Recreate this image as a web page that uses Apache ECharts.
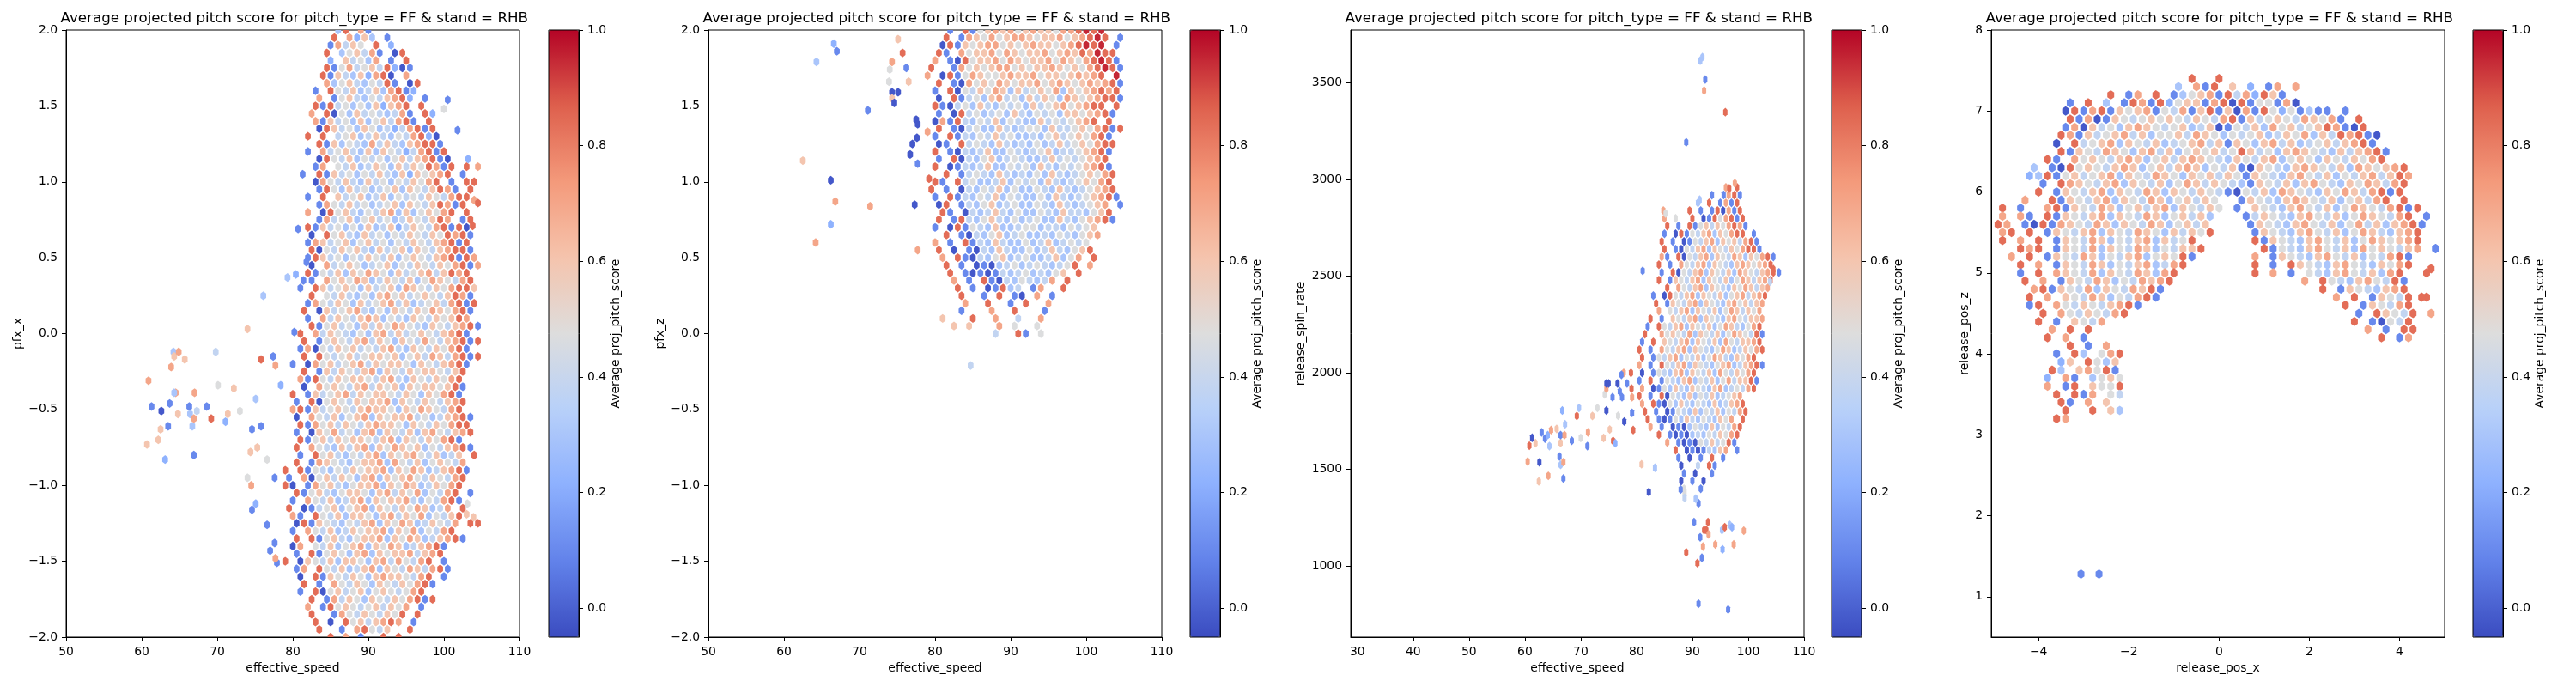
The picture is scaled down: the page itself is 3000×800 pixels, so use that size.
<!DOCTYPE html>
<html>
<head>
<meta charset="utf-8">
<script src="https://cdn.jsdelivr.net/npm/echarts@6/dist/echarts.min.js"></script>
<style>
  html, body { margin: 0; padding: 0; background: #fff; }
  #chart { width: 3000px; height: 800px; }
</style>
</head>
<body>
<div id="chart"></div>
<script>
// score for each digit used in the bin rows below ('.' = empty bin)
const levels = [-0.02, 0.1, 0.22, 0.3, 0.38, 0.47, 0.6, 0.7, 0.84, 0.95];

const titleText = 'Average projected pitch score for pitch_type = FF & stand = RHB';
const xNames = ['effective_speed', 'effective_speed', 'effective_speed', 'release_pos_x'];
const yNames = ['pfx_x', 'pfx_z', 'release_spin_rate', 'release_pos_z'];
const xRanges = [[50, 110], [50, 110], [28.8, 110], [-5.05, 5.0]];
const yRanges = [[-2, 2], [-2, 2], [632, 3774], [0.5, 8]];
const xTicks = [
  [50, 60, 70, 80, 90, 100, 110],
  [50, 60, 70, 80, 90, 100, 110],
  [30, 40, 50, 60, 70, 80, 90, 100, 110],
  [-4, -2, 0, 2, 4]
];
const yTicks = [
  [-2, -1.5, -1, -0.5, 0, 0.5, 1, 1.5, 2],
  [-2, -1.5, -1, -0.5, 0, 0.5, 1, 1.5, 2],
  [1000, 1500, 2000, 2500, 3000, 3500],
  [1, 2, 3, 4, 5, 6, 7, 8]
];
const yDecimals = [1, 1, 0, 0];
const cbTicks = [0, 0.2, 0.4, 0.6, 0.8, 1.0];

// pfx_x vs effective_speed, rows from y=2.00 down by 0.05, bins 1 mph wide
const p1Rows = [
  [86, '38.71'],
  [85, '8.7263.1'],
  [85, '17465.8.2'],
  [84, '8.356471.08'],
  [84, '.2.64537.1.8'],
  [84, '815745648201'],
  [84, '8164362780.7'],
  [84, '7356435481.08'],
  [83, '1.854634637812'],
  [83, '7.15643546782.1'],
  [83, '8184535362678.8'],
  [82, '7.805364543471.82'],
  [83, '71645363564781.8'],
  [83, '0864536534247818'],
  [82, '8.8.45634643547820'],
  [83, '81635437464367881'],
  [82, '1.74564363654247818'],
  [83, '085463545356467810'],
  [83, '17.5463465364658718.8'],
  [83, '816453546436265678.1'],
  [83, '07546436453546578.1.88'],
  [83, '1853645345636546871.8'],
  [82, '1.8.645634635454654788'],
  [83, '17546453456365468718'],
  [82, '7.085643546736356578.8'],
  [82, '.174563564534654687.18'],
  [82, '8164535363462465478180'],
  [82, '0.85643645354654658781'],
  [82, '1764563564535465467818'],
  [82, '8054656436456365467881'],
  [82, '1864535465463565467818'],
  [82, '0.745653456354654657817'],
  [82, '8154636576536456746878'],
  [82, '1.75657634654635765478'],
  [81, '1.864565364563765465788'],
  [82, '8.54643536756456546871'],
  [82, '17546536456746345647818'],
  [81, '8.064567435365465765781'],
  [82, '1.74654676354365465687'],
  [82, '81564536465765436546781'],
  [81, '8.746543536746456546781'],
  [81, '8.1565467465365475467818'],
  [81, '17054656454674365465781'],
  [81, '8.8545645665635647647818'],
  [80, '1.0756456746566536546781'],
  [81, '8.16465467365465665468'],
  [80, '.7185465665467436546578'],
  [81, '0.75654674656365665681'],
  [80, '8.164567465665465365781'],
  [80, '1.805654656673654654678'],
  [80, '78164565467665365765478'],
  [80, '0.7546356736566745346781'],
  [80, '.81756465467665365465788'],
  [80, '1.0657453673654636754678'],
  [80, '.8156465665467365465781'],
  [80, '8.7543646736576563546781'],
  [81, '1.85643546736567546346.8'],
  [80, '8.176543566737546356547'],
  [79, '8.81543546566736576346781'],
  [79, '1.7056465367365675465478'],
  [79, '80.175643566736576346578'],
  [79, '.8156435665367465735478.1'],
  [80, '1.754634673656674354781'],
  [79, '8.01456356736546576347.8'],
  [80, '71.85463665367465735468'],
  [80, '0816543546736576346547.88'],
  [80, '1.75463465667365735478'],
  [80, '8.815643566736576346781'],
  [80, '07.546356736576346781'],
  [80, '1.815653673656674678'],
  [79, '8.065463665367475478.1'],
  [80, '17.854634673654764781'],
  [81, '0.8165465367665478.1'],
  [81, '8.1.75465365465781'],
  [81, '1.805645635654578'],
  [81, '.8.174653654657818'],
  [82, '7.185654564657.1'],
  [82, '8..1754654658.8'],
  [82, '.8.0.85646787.1'],
  [83, '8..1.78546..8'],
  [83, '..8.7.1..8.8']
];
const p1Sparse = [
  [60.9, -0.31, 7], [60.7, -0.73, 6], [61.3, -0.48, 1], [62.2, -0.70, 6], [62.5, -0.63, 6],
  [62.6, -0.51, 0], [63.1, -0.83, 2], [63.5, -0.61, 1], [63.7, -0.46, 1], [63.9, -0.22, 7],
  [64.2, -0.12, 3], [64.3, -0.15, 6], [64.9, -0.12, 7], [64.5, -0.39, 7], [64.3, -0.39, 3],
  [64.8, -0.53, 6], [65.7, -0.17, 6], [66.3, -0.48, 1], [66.4, -0.53, 3], [66.7, -0.61, 3],
  [66.9, -0.56, 7], [67.0, -0.39, 7], [67.3, -0.51, 4], [66.9, -0.80, 1], [68.6, -0.48, 1],
  [69.2, -0.56, 8], [69.8, -0.12, 4], [70.1, -0.34, 5], [71.1, -0.58, 2], [71.4, -0.53, 6],
  [72.2, -0.36, 6], [73.0, -0.51, 5], [74.6, -0.63, 1], [75.8, -0.17, 8], [75.8, -0.61, 1],
  [74.4, -0.78, 6], [75.3, -0.75, 6], [75.1, -0.43, 3], [76.6, -0.83, 5], [77.7, -0.21, 7],
  [77.4, -0.15, 1], [78.4, -0.34, 2], [74.0, -0.95, 5], [74.5, -1.0, 7], [77.6, -0.95, 1],
  [75.1, -1.12, 2], [74.6, -1.16, 1], [76.6, -1.26, 1], [77.0, -1.43, 1], [77.6, -1.38, 1],
  [77.9, -1.51, 1], [77.7, -1.48, 7],
  [81.3, 1.05, 1], [80.7, 0.69, 1], [81.8, 0.47, 1], [80.4, 0.39, 2], [79.3, 0.37, 3],
  [81.4, 0.35, 1], [76.1, 0.25, 3], [74.0, 0.03, 6], [80.2, 0.01, 1],
  [100.5, 1.54, 1], [100.0, 1.48, 5], [101.8, 1.34, 1], [103.2, 1.15, 2], [104.5, 1.10, 7],
  [104.0, 0.88, 7], [104.5, 0.86, 8], [103.8, 0.71, 8], [104.0, 0.50, 7], [104.0, 0.30, 6],
  [103.1, -1.12, 5], [103.0, -1.19, 6], [103.9, -1.21, 6]
];

// pfx_z vs effective_speed, rows from y=2.00 down by 0.05
const p2Rows = [
  [82, '1.8156767567665778989'],
  [81, '8.17657567765667567898.1'],
  [81, '0816567756567665678989.1'],
  [80, '81.756675765667567687988'],
  [80, '7.10856675765667576578981'],
  [79, '8..17565677565667656578981'],
  [79, '7.0815765567667566567678.9'],
  [80, '8.10756576566756765676781'],
  [80, '1.80546576364565736567878'],
  [80, '0.81453674536465376567881'],
  [80, '81045364354536456756788.8'],
  [80, '1.0845345364354536656781'],
  [80, '0718435463543364545678.8'],
  [80, '8.10453364345536445657818'],
  [80, '1.8143546453343564565781'],
  [80, '01.845436434353464565788'],
  [80, '8.1043463354345634456781'],
  [80, '1.804356345433464545678'],
  [80, '8.0143463354536435456781'],
  [80, '.8.145436434353643456578'],
  [80, '81.845334635453643456578'],
  [79, '8.1.043546353354364345678'],
  [80, '1.81435463543353643456781'],
  [80, '08.14356345335436434567.1'],
  [80, '.81.04346435335436443568'],
  [80, '8.1843564353453364356781'],
  [80, '1.08154363345534435456'],
  [80, '.8.1043563453343543567'],
  [80, '7.1.81436433534634545'],
  [80, '8.0.10436433534643568'],
  [80, '.7.81043563453346357.8'],
  [81, '8.1.01034534543458.7'],
  [81, '.8.10101434534356.8'],
  [82, '7.1.8104354347.8'],
  [82, '.8.1.01834.17..8'],
  [83, '8..1.8.10.7.1'],
  [83, '.7..8..1.8..7'],
  [83, '1...7..8...1'],
  [81, '6...8..7..4..7'],
  [81, '.6.6...7.5..5'],
  [88, '4..81.5']
];
const p2Sparse = [
  [66.6, 1.91, 2], [67.0, 1.86, 1], [64.3, 1.79, 3], [75.1, 1.94, 6], [75.7, 1.85, 8],
  [74.3, 1.79, 7], [74.0, 1.74, 5], [76.2, 1.75, 1], [73.9, 1.66, 5], [76.5, 1.66, 6],
  [74.3, 1.59, 0], [75.1, 1.59, 0], [74.3, 1.55, 6], [74.6, 1.52, 0], [71.1, 1.47, 1],
  [77.5, 1.41, 0], [77.7, 1.38, 0], [79.0, 1.33, 7], [77.0, 1.25, 0], [77.6, 1.29, 0],
  [76.7, 1.18, 0], [62.5, 1.14, 6], [77.7, 1.12, 1], [66.2, 1.01, 0], [79.2, 1.02, 8],
  [66.8, 0.87, 7], [71.4, 0.84, 7], [77.3, 0.85, 0], [66.2, 0.72, 2], [64.2, 0.60, 7],
  [77.7, 0.55, 7], [84.7, -0.21, 4]
];

// release_spin_rate vs effective_speed, rows from 2960 rpm down by 40
const p3Rows = [
  [96, '7.8'],
  [93, '1..781'],
  [91, '3.8.1718'],
  [89, '8.1.180718'],
  [85, '7.5..8.01857818'],
  [85, '8.1.81564657871'],
  [85, '1.0815467365788.1'],
  [84, '8.1.01546736564781'],
  [84, '.8.1054673654657881'],
  [84, '71.805467365476365781'],
  [84, '8.1.75467365436765678'],
  [84, '1.80546736546376546781'],
  [84, '8.1654673654635764678'],
  [84, '.8.75467365436576467'],
  [83, '1.0854673654635674678'],
  [83, '8.165467365436756467'],
  [83, '.7.54673654635764657'],
  [82, '8.1.65467365436754667'],
  [82, '1.8546736546357643578'],
  [81, '8..7565473654635765481'],
  [81, '1.8.654673654637546678'],
  [80, '8.1.7546736543576346578'],
  [80, '.8.1546735463576436578'],
  [80, '7.1.8546736543567346781'],
  [79, '8.0.1543673654637546578'],
  [80, '1.8.154367354635746681'],
  [80, '.7.0153643654367345478'],
  [80, '8.1.805436354634567'],
  [80, '.7.81053643543634678'],
  [81, '8.1.015436354635478'],
  [81, '.8.10153643543657.8'],
  [82, '7.1.0103543635478'],
  [84, '8.1010343546578'],
  [85, '7.10105464581'],
  [86, '.8.01014367.1'],
  [87, '1.0.1.8.1'],
  [88, '0..4.81'],
  [88, '1.0..1'],
  [88, '0.1.0'],
  [88, '5..1']
];
const p3Sparse = [
  [60.5, 1541, 7], [62.6, 1537, 0], [66.9, 1453, 1], [62.5, 1438, 6], [64.2, 1467, 7],
  [66.4, 1524, 3], [66.9, 1538, 7], [66.2, 1567, 1], [60.8, 1623, 8], [61.9, 1636, 6],
  [61.3, 1664, 0], [63.0, 1692, 1], [63.6, 1660, 1], [64.1, 1678, 2], [64.7, 1704, 7],
  [65.7, 1710, 6], [64.4, 1621, 3], [66.4, 1638, 6], [66.4, 1678, 1], [67.1, 1678, 7],
  [68.4, 1649, 1], [67.2, 1734, 3], [66.7, 1805, 2], [69.7, 1818, 3], [69.3, 1777, 8],
  [70.0, 1663, 5], [71.2, 1621, 1], [71.3, 1692, 7], [72.1, 1777, 6], [73.0, 1818, 5],
  [74.1, 1663, 6], [74.3, 1889, 5], [74.6, 1919, 7], [74.6, 1805, 0], [74.6, 1945, 0],
  [75.0, 1945, 0], [75.2, 1707, 6], [75.8, 1648, 8], [76.2, 1636, 2], [75.7, 1874, 1],
  [76.6, 1945, 0], [76.7, 1778, 5], [77.0, 1904, 1], [77.4, 1874, 1], [77.8, 1748, 0],
  [78.3, 1945, 1], [79.1, 1919, 8], [79.2, 1793, 1], [79.2, 1874, 7], [77.7, 2000, 7],
  [77.3, 1990, 1], [80.9, 1527, 6], [83.3, 1509, 3], [82.2, 1383, 0], [79.4, 1704, 8],
  [88.6, 1383, 5], [88.6, 1353, 4], [91.1, 1325, 1], [90.6, 1349, 3], [87.9, 1396, 1],
  [90.3, 1228, 1], [92.8, 1228, 8], [92.1, 1186, 8], [92.5, 1186, 8], [92.9, 1164, 7],
  [91.4, 1149, 1], [91.9, 1101, 7], [88.9, 1071, 8], [94.1, 1112, 7], [95.3, 1186, 3],
  [95.8, 1201, 8], [96.7, 1213, 3], [97.1, 1201, 2], [95.4, 1086, 2], [97.4, 1112, 7],
  [99.2, 1183, 7], [91.7, 1043, 1], [90.9, 1015, 8], [91.1, 805, 1], [96.4, 775, 1],
  [91.4, 3616, 3], [91.8, 3634, 3], [92.3, 3518, 1], [92.1, 3461, 7], [95.9, 3349, 8],
  [88.9, 3193, 1], [91.3, 2896, 3], [97.6, 2981, 7], [95.6, 2921, 1], [96.6, 2954, 8],
  [84.8, 2840, 7], [85.2, 2825, 5], [81.1, 2528, 1], [104.5, 2536, 8], [103.9, 2472, 4]
];

// release_pos_z vs release_pos_x, rows from 7.4 ft down by 0.1, bins 0.2 ft wide
const p4Rows = [
  [[-0.6, '8..8']],
  [[-1.0, '3.718.6.2.17.7']],
  [[-2.4, '8.17.8.1356718472861']],
  [[-3.4, '1.8.3.18718256617808155170']],
  [[-3.4, '081781656715471681607185251311.1']],
  [[-3.4, '8170165456565465478164565476571.8']],
  [[-3.4, '1706453676545634601546375645687108']],
  [[-3.6, '871645674635564765354563465736487810']],
  [[-3.6, '0.8456736546345674616536746345646781']],
  [[-3.6, '8165476536746356564586453676543646781']],
  [[-3.8, '81.75654676356467654365467356536546578']],
  [[-4.2, '3.1085654676356467635461065436765463765678']],
  [[-4.2, '2381564567365476536564651654367546354674687']],
  [[-4.0, '1.876546736546357646543165463675436576478']],
  [[-4.0, '8.165467365476365465410546376543657647818']],
  [[-4.4, '7..8165467365476356465'], [0.4, '16543676546356478.8']],
  [[-4.8, '8.1..78165476356467365465'], [0.4, '1.6543675463576547818']],
  [[-4.9, '7.71.8165467365476356463'], [0.5, '1465436754635765478.1']],
  [[-4.9, '87.108176547636547635646'], [0.7, '16543675463574636781']],
  [[-4.9, '78.8.1654673654765364658'], [0.7, '1654367546357643678']],
  [[-4.8, '8.7.8.1654763546736458'], [0.8, '8165436754635765678']],
  [[-4.7, '.878.16547365476354668'], [0.9, '815436754637565467'], [4.7, '1']],
  [[-4.6, '7.8.16547635467356581'], [0.8, '7.1654367546354781']],
  [[-4.5, '8.7.165476354673478'], [0.7, '8.1.86543675436578']],
  [[-4.4, '1.8.76547365476378'], [0.8, '8.7.1.54367546378'], [4.6, '8']],
  [[-4.4, '8.7.1654763547678'], [1.8, '7.8543675481']],
  [[-4.3, '.781654736547681'], [2.3, '8.16543678']],
  [[-4.3, '8.7.65476354781'], [2.5, '7.8.16548.8']],
  [[-4.2, '18.7546546781'], [2.8, '8.165478']],
  [[-4.2, '.8.75465478'], [3.0, '1.86548.7']],
  [[-4.0, '8.1.6547'], [3.0, '8.10548']],
  [[-4.0, '.7.8.8'], [3.2, '7.1.88']],
  [[-3.8, '8.7.1'], [3.6, '8.17']],
  [[-3.4, '8.1.7']],
  [[-3.6, '1.83.578']],
  [[-3.6, '26.8536']],
  [[-3.7, '83.67581']],
  [[-3.9, '2.71.3565']],
  [[-3.8, '7.18.6558']],
  [[-3.7, '8.817.54']],
  [[-3.5, '81.7.6']],
  [[-3.5, '8..8.63']],
  [[-3.6, '87']]
];
const p4Sparse = [
  [-3.06, 1.28, 1], [-2.66, 1.28, 1], [4.8, 5.3, 1], [4.49, 4.7, 8], [4.7, 5.05, 8]
];

const panels = [
  { rows: p1Rows, sparse: p1Sparse, top: 2.0, dx: 1, dy: 0.05 },
  { rows: p2Rows, sparse: p2Sparse, top: 2.0, dx: 1, dy: 0.05 },
  { rows: p3Rows, sparse: p3Sparse, top: 2960, dx: 1, dy: 40 },
  { rows: p4Rows, sparse: p4Sparse, top: 7.4, dx: 0.2, dy: 0.1 }
];

// matplotlib coolwarm
const coolwarm = ['#3b4cc0', '#6282ea', '#8db0fe', '#b8d0f9', '#dddddd', '#f5c4ad', '#f49a7b', '#de604d', '#b40426'];

// layout (px)
const gridLeft = [77, 825, 1573, 2319];
const cbLeft = [639, 1386, 2133, 2880];
const gridW = 528, gridTop = 35, gridH = 707, cbW = 35;
const yNameGap = [49, 49, 51, 24];

const FONT = 'DejaVu Sans';
const TICK = 13.9;

function binCells(p) {
  const cells = [];
  p.rows.forEach(function (row, r) {
    const segs = typeof row[0] === 'number' ? [row] : row;
    const y = p.top - r * p.dy;
    const shift = r % 2 ? p.dx / 2 : 0;
    segs.forEach(function (seg) {
      for (let i = 0; i < seg[1].length; i++) {
        const ch = seg[1][i];
        if (ch !== '.') cells.push([seg[0] + i * p.dx + shift, y, levels[+ch]]);
      }
    });
  });
  p.sparse.forEach(function (s) { cells.push([s[0], s[1], levels[s[2]]]); });
  return cells;
}

function hexRenderer(dx, dy) {
  return function (params, api) {
    const c = api.coord([api.value(0), api.value(1)]);
    const s = api.size([dx, dy]);
    const hw = s[0] * 0.38, hh = s[1] * 0.58;
    return {
      type: 'polygon',
      shape: {
        points: [
          [c[0], c[1] - hh], [c[0] + hw, c[1] - hh / 2], [c[0] + hw, c[1] + hh / 2],
          [c[0], c[1] + hh], [c[0] - hw, c[1] + hh / 2], [c[0] - hw, c[1] - hh / 2]
        ]
      },
      style: { fill: api.visual('color') }
    };
  };
}

function fmt(d) {
  return function (v) { return v.toFixed(d).replace('-', '\u2212'); };
}

const labelStyle = { fontFamily: FONT, fontSize: TICK, color: '#000' };
const tickStyle = { show: true, length: 5, lineStyle: { color: '#000', width: 1 } };
const lineStyle = { show: true, onZero: false, lineStyle: { color: '#000', width: 1 } };

const grid = [], xAxis = [], yAxis = [], series = [], visualMap = [], title = [];

for (let i = 0; i < 4; i++) {
  grid.push({
    left: gridLeft[i], top: gridTop, width: gridW, height: gridH,
    show: true, borderColor: '#000', borderWidth: 1, backgroundColor: 'transparent',
    outerBoundsMode: 'none'
  });
  title.push({
    text: titleText, left: gridLeft[i] - 6.5, top: 13, padding: 0,
    textStyle: { fontFamily: FONT, fontSize: 16.7, fontWeight: 'normal', color: '#000' }
  });
  xAxis.push({
    type: 'value', gridIndex: i, min: xRanges[i][0], max: xRanges[i][1],
    splitLine: { show: false },
    axisLine: lineStyle, axisTick: Object.assign({ customValues: xTicks[i] }, tickStyle),
    axisLabel: Object.assign({ customValues: xTicks[i], margin: 10, formatter: fmt(0) }, labelStyle),
    name: xNames[i], nameLocation: 'middle', nameGap: 28, nameTextStyle: labelStyle
  });
  yAxis.push({
    type: 'value', gridIndex: i, min: yRanges[i][0], max: yRanges[i][1],
    splitLine: { show: false },
    axisLine: lineStyle, axisTick: Object.assign({ customValues: yTicks[i] }, tickStyle),
    axisLabel: Object.assign({ customValues: yTicks[i], margin: 10, formatter: fmt(yDecimals[i]) }, labelStyle),
    name: yNames[i], nameLocation: 'middle', nameGap: yNameGap[i], nameRotate: 90, nameTextStyle: labelStyle
  });
  series.push({
    type: 'custom', xAxisIndex: i, yAxisIndex: i, clip: true, silent: true,
    renderItem: hexRenderer(panels[i].dx, panels[i].dy),
    encode: { x: 0, y: 1 },
    data: binCells(panels[i])
  });
  visualMap.push({
    type: 'continuous', seriesIndex: i, dimension: 2, min: -0.05, max: 1,
    left: cbLeft[i], top: gridTop, itemWidth: cbW, itemHeight: gridH, padding: 0,
    calculable: false, hoverLink: false, show: true,
    inRange: { color: coolwarm }
  });
}

// colorbar frames and their tick axes
for (let i = 0; i < 4; i++) {
  grid.push({
    left: cbLeft[i], top: gridTop, width: cbW, height: gridH, z: 5,
    show: true, borderColor: '#000', borderWidth: 1, backgroundColor: 'transparent',
    outerBoundsMode: 'none'
  });
  xAxis.push({ type: 'value', gridIndex: 4 + i, min: 0, max: 1, show: false });
  yAxis.push({
    type: 'value', gridIndex: 4 + i, position: 'right', min: -0.05, max: 1,
    splitLine: { show: false },
    axisLine: lineStyle, axisTick: Object.assign({ customValues: cbTicks }, tickStyle),
    axisLabel: Object.assign({ customValues: cbTicks, margin: 10, formatter: fmt(1) }, labelStyle),
    name: 'Average proj_pitch_score', nameLocation: 'middle', nameGap: 34, nameRotate: 90,
    nameTextStyle: labelStyle
  });
}

const chart = echarts.init(document.getElementById('chart'));
chart.setOption({
  animation: false,
  backgroundColor: '#fff',
  textStyle: { fontFamily: FONT },
  title: title,
  grid: grid,
  xAxis: xAxis,
  yAxis: yAxis,
  visualMap: visualMap,
  series: series
});
</script>
</body>
</html>
